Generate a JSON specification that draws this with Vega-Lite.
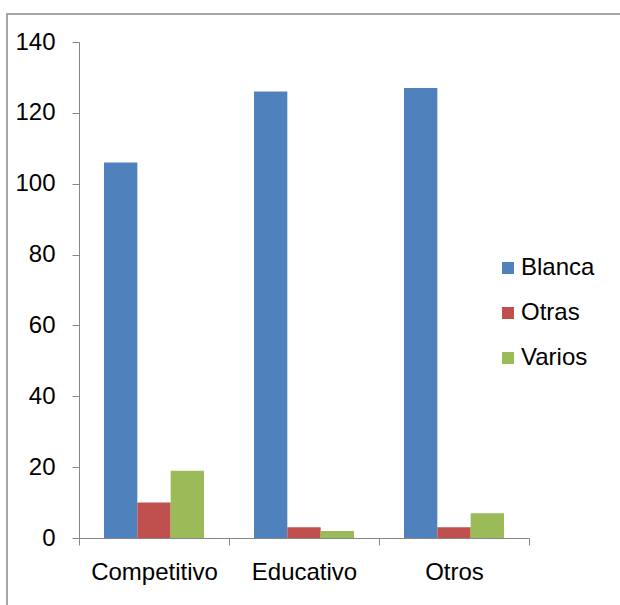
{
  "$schema": "https://vega.github.io/schema/vega-lite/v6.json",
  "width": 613,
  "height": 591,
  "autosize": {"type": "none"},
  "padding": {"left": 7, "top": 14, "right": 0, "bottom": 0},
  "background": "white",
  "config": {
    "view": {"stroke": "#8a8a8a", "strokeWidth": 1.5, "strokeDash": [613, 1204, 591]},
    "font": "Liberation Sans",
    "axis": {"grid": false, "domainColor": "#868686", "tickColor": "#868686", "labelColor": "#000000", "labelFontSize": 24, "labelFont": "Liberation Sans", "title": null}
  },
  "data": {
    "values": [
      {"categoria": "Competitivo", "serie": "Blanca", "valor": 106},
      {"categoria": "Competitivo", "serie": "Otras", "valor": 10},
      {"categoria": "Competitivo", "serie": "Varios", "valor": 19},
      {"categoria": "Educativo", "serie": "Blanca", "valor": 126},
      {"categoria": "Educativo", "serie": "Otras", "valor": 3},
      {"categoria": "Educativo", "serie": "Varios", "valor": 2},
      {"categoria": "Otros", "serie": "Blanca", "valor": 127},
      {"categoria": "Otros", "serie": "Otras", "valor": 3},
      {"categoria": "Otros", "serie": "Varios", "valor": 7}
    ]
  },
  "mark": {"type": "bar"},
  "encoding": {
    "x": {
      "field": "categoria", "type": "nominal", "sort": null,
      "scale": {"paddingInner": 0, "paddingOuter": 0, "range": [72, 522]},
      "axis": {"labelAngle": 0, "tickBand": "extent", "tickSize": 7, "labelPadding": 15, "domainWidth": 1, "offset": -67}
    },
    "xOffset": {"field": "serie", "type": "nominal", "sort": null, "scale": {"paddingInner": 0, "paddingOuter": 0.75}},
    "y": {
      "field": "valor", "type": "quantitative",
      "scale": {"domain": [0, 140], "nice": false, "range": [524, 28]},
      "axis": {"values": [0, 20, 40, 60, 80, 100, 120, 140], "tickSize": 7, "labelPadding": 17, "domainWidth": 1, "offset": -72}
    },
    "color": {
      "field": "serie", "type": "nominal", "sort": null,
      "scale": {"domain": ["Blanca", "Otras", "Varios"], "range": ["#4F81BD", "#C0504D", "#9BBB59"]},
      "legend": {
        "title": null, "orient": "none", "legendX": 489, "legendY": 242, "padding": 0,
        "symbolType": "square", "symbolSize": 144, "symbolStrokeWidth": 0,
        "labelFontSize": 24, "labelFont": "Liberation Sans", "labelColor": "#000000",
        "labelOffset": 1, "rowPadding": 21
      }
    }
  }
}
